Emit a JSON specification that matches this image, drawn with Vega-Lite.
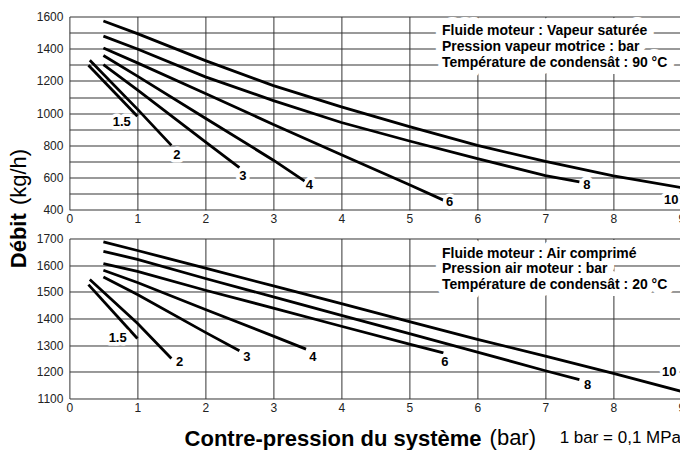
{
  "$schema": "https://vega.github.io/schema/vega-lite/v6.json",
  "autosize": {"type": "pad"},
  "padding": {"left": 6.4, "top": 10.5, "right": 0, "bottom": 0},
  "background": "white",
  "bounds": "flush",
  "spacing": 28,
  "config": {
    "font": "Liberation Sans",
    "view": {"stroke": null},
    "axis": {
      "grid": true, "gridColor": "#333333", "gridWidth": 1, "gridOpacity": 1,
      "domain": false, "ticks": false, "tickSize": 0,
      "labelFont": "Liberation Sans", "labelFontSize": 12, "labelColor": "#222222",
      "titleFont": "Liberation Sans", "titleColor": "#000000", "titleFontSize": 22
    }
  },
  "title": {
    "text": "1 bar = 0,1 MPa", "orient": "bottom", "anchor": "end", "baseline": "alphabetic",
    "fontSize": 17, "fontWeight": "normal", "font": "Liberation Sans", "color": "#000000", "offset": 0, "dx": -6, "dy": -6
  },
  "datasets": {
    "vapeur": [
      {"serie": "10", "x": 0.5, "y": 1572}, {"serie": "10", "x": 1, "y": 1494}, {"serie": "10", "x": 2, "y": 1326}, {"serie": "10", "x": 3, "y": 1171}, {"serie": "10", "x": 4, "y": 1039}, {"serie": "10", "x": 5, "y": 916}, {"serie": "10", "x": 6, "y": 800}, {"serie": "10", "x": 7, "y": 700}, {"serie": "10", "x": 8, "y": 610}, {"serie": "10", "x": 9, "y": 538},
      {"serie": "8", "x": 0.5, "y": 1478}, {"serie": "8", "x": 1, "y": 1398}, {"serie": "8", "x": 2, "y": 1225}, {"serie": "8", "x": 3, "y": 1078}, {"serie": "8", "x": 4, "y": 942}, {"serie": "8", "x": 5, "y": 827}, {"serie": "8", "x": 6, "y": 718}, {"serie": "8", "x": 7, "y": 612}, {"serie": "8", "x": 7.5, "y": 573},
      {"serie": "6", "x": 0.5, "y": 1404}, {"serie": "6", "x": 1, "y": 1312}, {"serie": "6", "x": 2, "y": 1122}, {"serie": "6", "x": 3, "y": 930}, {"serie": "6", "x": 4, "y": 742}, {"serie": "6", "x": 5, "y": 556}, {"serie": "6", "x": 5.5, "y": 460},
      {"serie": "4", "x": 0.5, "y": 1358}, {"serie": "4", "x": 1, "y": 1230}, {"serie": "4", "x": 2, "y": 968}, {"serie": "4", "x": 3, "y": 708}, {"serie": "4", "x": 3.46, "y": 578},
      {"serie": "3", "x": 0.5, "y": 1301}, {"serie": "3", "x": 1, "y": 1145}, {"serie": "3", "x": 2, "y": 822}, {"serie": "3", "x": 2.5, "y": 662},
      {"serie": "2", "x": 0.3, "y": 1328}, {"serie": "2", "x": 1, "y": 1025}, {"serie": "2", "x": 1.5, "y": 800},
      {"serie": "1.5", "x": 0.28, "y": 1297}, {"serie": "1.5", "x": 1.0, "y": 981}
    ],
    "air": [
      {"serie": "10", "x": 0.5, "y": 1687}, {"serie": "10", "x": 1, "y": 1655}, {"serie": "10", "x": 2, "y": 1589}, {"serie": "10", "x": 3, "y": 1522}, {"serie": "10", "x": 4, "y": 1456}, {"serie": "10", "x": 5, "y": 1388}, {"serie": "10", "x": 6, "y": 1322}, {"serie": "10", "x": 7, "y": 1259}, {"serie": "10", "x": 8, "y": 1194}, {"serie": "10", "x": 9, "y": 1127},
      {"serie": "8", "x": 0.5, "y": 1652}, {"serie": "8", "x": 1, "y": 1622}, {"serie": "8", "x": 2, "y": 1550}, {"serie": "8", "x": 3, "y": 1481}, {"serie": "8", "x": 4, "y": 1412}, {"serie": "8", "x": 5, "y": 1343}, {"serie": "8", "x": 6, "y": 1274}, {"serie": "8", "x": 7, "y": 1204}, {"serie": "8", "x": 7.5, "y": 1171},
      {"serie": "6", "x": 0.5, "y": 1606}, {"serie": "6", "x": 1, "y": 1577}, {"serie": "6", "x": 2, "y": 1506}, {"serie": "6", "x": 3, "y": 1439}, {"serie": "6", "x": 4, "y": 1371}, {"serie": "6", "x": 5, "y": 1304}, {"serie": "6", "x": 5.5, "y": 1271},
      {"serie": "4", "x": 0.5, "y": 1581}, {"serie": "4", "x": 1, "y": 1535}, {"serie": "4", "x": 2, "y": 1434}, {"serie": "4", "x": 3, "y": 1334}, {"serie": "4", "x": 3.48, "y": 1285},
      {"serie": "3", "x": 0.5, "y": 1556}, {"serie": "3", "x": 1, "y": 1490}, {"serie": "3", "x": 2, "y": 1348}, {"serie": "3", "x": 2.5, "y": 1279},
      {"serie": "2", "x": 0.3, "y": 1546}, {"serie": "2", "x": 1, "y": 1382}, {"serie": "2", "x": 1.5, "y": 1250},
      {"serie": "1.5", "x": 0.28, "y": 1527}, {"serie": "1.5", "x": 1.0, "y": 1325}
    ],
    "lab_vapeur": [
      {"label": "1.5", "x": 0.77, "y": 944}, {"label": "2", "x": 1.58, "y": 742}, {"label": "3", "x": 2.55, "y": 611}, {"label": "4", "x": 3.53, "y": 555},
      {"label": "6", "x": 5.59, "y": 448}, {"label": "8", "x": 7.61, "y": 555}, {"label": "10", "x": 8.85, "y": 462}
    ],
    "lab_air": [
      {"label": "1.5", "x": 0.71, "y": 1325}, {"label": "2", "x": 1.62, "y": 1237}, {"label": "3", "x": 2.61, "y": 1254}, {"label": "4", "x": 3.58, "y": 1256},
      {"label": "6", "x": 5.52, "y": 1235}, {"label": "8", "x": 7.62, "y": 1150}, {"label": "10", "x": 8.82, "y": 1200}
    ],
    "info_vapeur": [
      {"text": "Fluide moteur : Vapeur saturée", "x": 5.48, "y": 1507},
      {"text": "Pression vapeur motrice : bar", "x": 5.48, "y": 1408},
      {"text": "Température de condensât : 90 °C", "x": 5.48, "y": 1311}
    ],
    "info_air": [
      {"text": "Fluide moteur : Air comprimé", "x": 5.48, "y": 1640},
      {"text": "Pression air moteur : bar", "x": 5.48, "y": 1585},
      {"text": "Température de condensât : 20 °C", "x": 5.48, "y": 1525}
    ]
  },
  "vconcat": [
    {
      "width": 612, "height": 193.3,
      "encoding": {
        "x": {"field": "x", "type": "quantitative",
          "scale": {"domain": [0, 9], "nice": false, "zero": false},
          "axis": {"values": [0,1,2,3,4,5,6,7,8,9], "labelPadding": 4, "labelFlush": false, "labelOverlap": false,
            "title": "(bar)", "titleFontWeight": "normal", "titleX": 419.7, "titleY": 235, "titleAlign": "left", "titleBaseline": "alphabetic", "titleAngle": 0}},
        "y": {"field": "y", "type": "quantitative",
          "scale": {"domain": [400, 1600], "nice": false, "zero": false},
          "axis": {"values": [400,500,600,700,800,900,1000,1100,1200,1300,1400,1500,1600],
            "labelExpr": "datum.value % 200 == 0 ? datum.label : ''", "labelPadding": 6.5, "labelFlush": false, "labelOverlap": false, "format": "d",
            "title": "(kg/h)", "titleFontWeight": "normal", "titleX": -44.3, "titleY": 160, "titleAlign": "center", "titleBaseline": "alphabetic", "titleAngle": -90}}
      },
      "layer": [
        {"data": {"name": "vapeur"}, "mark": {"type": "line", "color": "#000000", "strokeWidth": 2.8, "strokeCap": "butt"},
          "encoding": {"detail": {"field": "serie"}}},
        {"data": {"name": "lab_vapeur"}, "mark": {"type": "text", "fontWeight": "bold", "fontSize": 13, "fill": "white", "stroke": "white", "strokeWidth": 7, "strokeJoin": "round"},
          "encoding": {"text": {"field": "label"}}},
        {"data": {"name": "lab_vapeur"}, "mark": {"type": "text", "fontWeight": "bold", "fontSize": 13, "color": "#000000"},
          "encoding": {"text": {"field": "label"}}},
        {"data": {"name": "info_vapeur"}, "mark": {"type": "text", "align": "left", "baseline": "middle", "fontWeight": "bold", "fontSize": 14, "fill": "white", "stroke": "white", "strokeWidth": 14, "strokeJoin": "round"},
          "encoding": {"text": {"field": "text"}}},
        {"data": {"name": "info_vapeur"}, "mark": {"type": "text", "align": "left", "baseline": "middle", "fontWeight": "bold", "fontSize": 14, "color": "#000000"},
          "encoding": {"text": {"field": "text"}}}
      ]
    },
    {
      "width": 612, "height": 160,
      "encoding": {
        "x": {"field": "x", "type": "quantitative",
          "scale": {"domain": [0, 9], "nice": false, "zero": false},
          "axis": {"values": [0,1,2,3,4,5,6,7,8,9], "labelPadding": 4, "labelFlush": false, "labelOverlap": false,
            "title": "Contre-pression du système", "titleFontWeight": "bold", "titleX": 114.7, "titleY": 46.7, "titleAlign": "left", "titleBaseline": "alphabetic", "titleAngle": 0}},
        "y": {"field": "y", "type": "quantitative",
          "scale": {"domain": [1100, 1700], "nice": false, "zero": false},
          "axis": {"values": [1100,1200,1300,1400,1500,1600,1700], "labelPadding": 6.5, "labelFlush": false, "labelOverlap": false, "format": "d",
            "title": "Débit", "titleFontWeight": "bold", "titleX": -44.3, "titleY": 1.7, "titleAlign": "center", "titleBaseline": "alphabetic", "titleAngle": -90}}
      },
      "layer": [
        {"data": {"name": "air"}, "mark": {"type": "line", "color": "#000000", "strokeWidth": 2.8, "strokeCap": "butt"},
          "encoding": {"detail": {"field": "serie"}}},
        {"data": {"name": "lab_air"}, "mark": {"type": "text", "fontWeight": "bold", "fontSize": 13, "fill": "white", "stroke": "white", "strokeWidth": 7, "strokeJoin": "round"},
          "encoding": {"text": {"field": "label"}}},
        {"data": {"name": "lab_air"}, "mark": {"type": "text", "fontWeight": "bold", "fontSize": 13, "color": "#000000"},
          "encoding": {"text": {"field": "label"}}},
        {"data": {"name": "info_air"}, "mark": {"type": "text", "align": "left", "baseline": "middle", "fontWeight": "bold", "fontSize": 14, "fill": "white", "stroke": "white", "strokeWidth": 14, "strokeJoin": "round"},
          "encoding": {"text": {"field": "text"}}},
        {"data": {"name": "info_air"}, "mark": {"type": "text", "align": "left", "baseline": "middle", "fontWeight": "bold", "fontSize": 14, "color": "#000000"},
          "encoding": {"text": {"field": "text"}}}
      ]
    }
  ]
}
